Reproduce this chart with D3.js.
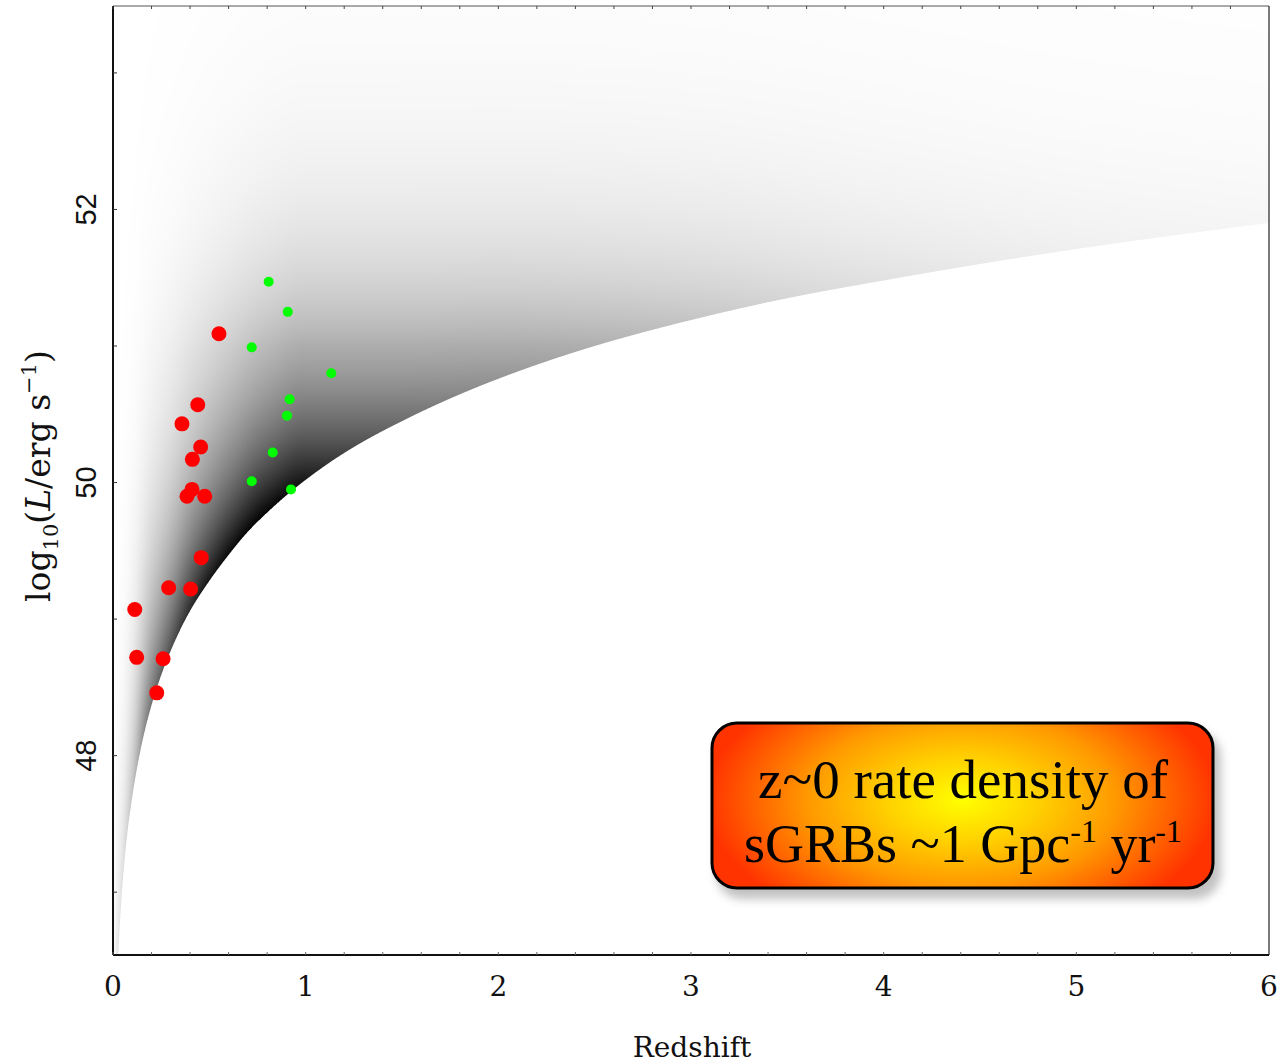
<!DOCTYPE html>
<html><head><meta charset="utf-8">
<script src="https://cdn.jsdelivr.net/npm/d3@7"></script>
<style>body{margin:0;background:#fff}</style>
</head><body>
<svg id="chart" width="1282" height="1063"></svg>
<script>
// ---- data ----
const xTickValues = [0, 1, 2, 3, 4, 5, 6];
const yTickValues = [48, 50, 52];
// observed short GRBs with redshift (red)
const redZ = [0.550, 0.440, 0.358, 0.455, 0.412, 0.410, 0.384, 0.476, 0.458, 0.289, 0.403, 0.113, 0.123, 0.260, 0.227];
const redL = [51.09, 50.57, 50.43, 50.26, 50.17, 49.95, 49.90, 49.90, 49.45, 49.23, 49.22, 49.07, 48.72, 48.71, 48.46];
// second set (green)
const greenZ = [0.808, 0.907, 0.720, 1.133, 0.917, 0.903, 0.829, 0.720, 0.924];
const greenL = [51.47, 51.25, 50.99, 50.80, 50.61, 50.49, 50.22, 50.01, 49.95];
// detection threshold curve (lower edge of the shaded density)
const limitZ = [0.005, 0.01, 0.015, 0.026, 0.05, 0.075, 0.1, 0.15, 0.2, 0.3, 0.4, 0.5, 0.6, 0.7, 0.8, 1.0, 1.25, 1.5, 2.0, 2.5, 3.0, 3.5, 4.0, 5.0, 6.0];
const limitL = [45.04, 45.65, 46.01, 46.49, 47.07, 47.44, 47.70, 48.09, 48.37, 48.77, 49.06, 49.28, 49.47, 49.64, 49.78, 50.02, 50.26, 50.45, 50.76, 51.00, 51.19, 51.35, 51.48, 51.71, 51.90];
// relative source density versus redshift (shade weight)
const rateZ = [0.0, 0.05, 0.1, 0.2, 0.3, 0.4, 0.5, 0.6, 0.8, 1.0, 1.5, 2.0, 2.5, 3.0, 4.0, 5.0, 6.0];
const rateW = [0.0, 0.006, 0.022, 0.10, 0.19, 0.31, 0.43, 0.55, 0.78, 0.92, 0.92, 0.93, 0.90, 0.84, 0.62, 0.44, 0.34];
const lumDecayLow = 0.35;   // shade ratio per dex of L below 10^51
const lumDecayHigh = 0.27;  // shade ratio per dex of L above 10^51
const boxLine1 = "z~0 rate density of";

// ---- layout ----
const svg = d3.select("#chart");
const pLeft = 113, pRight = 1269, pTop = 6, pBottom = 955;
const x = d3.scaleLinear().domain([0, 6]).range([pLeft, pRight]);
const y = d3.scaleLinear().domain([46.54, 53.49]).range([pBottom, pTop]);

// monotone cubic (Fritsch–Carlson) through the read points
function monotone(xs, ys) {
  const n = xs.length, h = [], d = [], m = new Array(n);
  for (let i = 0; i < n - 1; i++) { h[i] = xs[i + 1] - xs[i]; d[i] = (ys[i + 1] - ys[i]) / h[i]; }
  m[0] = d[0]; m[n - 1] = d[n - 2];
  for (let i = 1; i < n - 1; i++) {
    if (d[i - 1] * d[i] <= 0) m[i] = 0;
    else {
      const w1 = 2 * h[i] + h[i - 1], w2 = h[i] + 2 * h[i - 1];
      m[i] = (w1 + w2) / (w1 / d[i - 1] + w2 / d[i]);
    }
  }
  return v => {
    if (v <= xs[0]) return ys[0];
    if (v >= xs[n - 1]) return ys[n - 1];
    const i = Math.max(0, d3.bisectRight(xs, v) - 1);
    const t = (v - xs[i]) / h[i], t2 = t * t, t3 = t2 * t;
    return (2 * t3 - 3 * t2 + 1) * ys[i] + (t3 - 2 * t2 + t) * h[i] * m[i]
      + (-2 * t3 + 3 * t2) * ys[i + 1] + (t3 - t2) * h[i] * m[i + 1];
  };
}
// threshold curve is smooth in log(z)
const limitLog = monotone(limitZ.map(Math.log10), limitL);
const limitAt = z => z <= limitZ[0] ? 40 : limitLog(Math.log10(z));
const rateAt = monotone(rateZ, rateW);

// ---- density image ----
const W = pRight - pLeft, H = pBottom - pTop;
const cv = document.createElement("canvas");
cv.width = W; cv.height = H;
const ctx = cv.getContext("2d");
const img = ctx.createImageData(W, H);
const SS = 3;
for (let px = 0; px < W; px++) {
  const lm = [], ws = [];
  for (let s = 0; s < SS; s++) {
    const z = x.invert(pLeft + px + (s + 0.5) / SS);
    lm.push(limitAt(z)); ws.push(Math.max(0, rateAt(z)));
  }
  for (let py = 0; py < H; py++) {
    let acc = 0;
    for (let s = 0; s < SS; s++) {
      for (let r = 0; r < SS; r++) {
        const L = y.invert(pTop + py + (r + 0.5) / SS);
        if (L < lm[s]) continue;
        const g = L <= 51 ? Math.pow(lumDecayLow, L - 50)
                          : lumDecayLow * Math.pow(lumDecayHigh, L - 51);
        acc += Math.min(1, ws[s] * g);
      }
    }
    const dk = acc / (SS * SS);
    const gv = Math.round(255 * (1 - dk));
    const k = (py * W + px) * 4;
    img.data[k] = gv; img.data[k + 1] = gv; img.data[k + 2] = gv; img.data[k + 3] = 255;
  }
}
ctx.putImageData(img, 0, 0);
svg.append("image").attr("x", pLeft).attr("y", pTop).attr("width", W).attr("height", H)
  .attr("preserveAspectRatio", "none").attr("href", cv.toDataURL());

// ---- frame & ticks ----
svg.append("line").attr("x1", pLeft).attr("x2", pRight).attr("y1", pTop).attr("y2", pTop).attr("stroke", "#555").attr("stroke-width", 1);
svg.append("line").attr("x1", pRight).attr("x2", pRight).attr("y1", pTop).attr("y2", pBottom).attr("stroke", "#222").attr("stroke-width", 1.2);
svg.append("line").attr("x1", pLeft).attr("x2", pLeft).attr("y1", pTop).attr("y2", pBottom).attr("stroke", "#111").attr("stroke-width", 2);
svg.append("line").attr("x1", pLeft).attr("x2", pRight).attr("y1", pBottom).attr("y2", pBottom).attr("stroke", "#111").attr("stroke-width", 2);

const minorZ = d3.range(0, 30).map(i => i * 0.2);
svg.append("g").selectAll("line").data(minorZ).join("line")
  .attr("x1", d => x(d)).attr("x2", d => x(d)).attr("y1", pTop).attr("y2", pTop + 3)
  .attr("stroke", "#444").attr("stroke-width", 1);
svg.append("g").selectAll("line").data(minorZ).join("line")
  .attr("x1", d => x(d)).attr("x2", d => x(d)).attr("y1", pBottom).attr("y2", pBottom - 3)
  .attr("stroke", "#666").attr("stroke-width", 1);
const yTickAll = [47, 48, 49, 50, 51, 52, 53];
svg.append("g").selectAll("line").data(yTickAll).join("line")
  .attr("x1", pLeft).attr("x2", pLeft + 4).attr("y1", d => y(d)).attr("y2", d => y(d))
  .attr("stroke", "#333").attr("stroke-width", 1);

// tick labels
svg.append("g").selectAll("text").data(xTickValues).join("text")
  .attr("x", d => x(d)).attr("y", 996).attr("text-anchor", "middle")
  .attr("font-family", "DejaVu Serif").attr("font-size", 28).attr("fill", "#111")
  .text(d => d);
svg.append("g").selectAll("text").data(yTickValues).join("text")
  .attr("transform", d => `translate(96,${y(d)}) rotate(-90)`)
  .attr("text-anchor", "middle")
  .attr("font-family", "Liberation Sans").attr("font-size", 29).attr("fill", "#111")
  .text(d => d);

// axis titles
svg.append("text").attr("x", 692).attr("y", 1057).attr("text-anchor", "middle")
  .attr("font-family", "DejaVu Serif").attr("font-size", 28).attr("fill", "#111").text("Redshift");
const yl = svg.append("text").attr("transform", "translate(50,476) rotate(-90)")
  .attr("text-anchor", "middle").attr("font-family", "DejaVu Serif").attr("font-size", 33).attr("fill", "#111");
yl.append("tspan").text("log");
yl.append("tspan").attr("font-size", 21).attr("dy", 8).text("10");
yl.append("tspan").attr("dy", -8).text("(");
yl.append("tspan").attr("font-style", "italic").text("L");
yl.append("tspan").text("/erg s");
yl.append("tspan").attr("font-size", 21).attr("dy", -14).text("−1");
yl.append("tspan").attr("dy", 14).text(")");

// ---- points ----
svg.append("g").selectAll("circle").data(redZ.map((z, i) => [z, redL[i]])).join("circle")
  .attr("cx", d => x(d[0])).attr("cy", d => y(d[1])).attr("r", 7.5).attr("fill", "#ff0000");
svg.append("g").selectAll("circle").data(greenZ.map((z, i) => [z, greenL[i]])).join("circle")
  .attr("cx", d => x(d[0])).attr("cy", d => y(d[1])).attr("r", 5).attr("fill", "#00ff00");

// ---- annotation box ----
const defs = svg.append("defs");
const grad = defs.append("radialGradient").attr("id", "boxg").attr("gradientUnits", "userSpaceOnUse")
  .attr("cx", 962).attr("cy", 800).attr("r", 255)
  .attr("gradientTransform", "translate(962,800) scale(1,0.55) translate(-962,-800)");
[[0, "#ffff00"], [0.3, "#ffd000"], [0.6, "#ff9a00"], [1, "#ff3300"]].forEach(s =>
  grad.append("stop").attr("offset", s[0]).attr("stop-color", s[1]));
const f = defs.append("filter").attr("id", "shadow").attr("x", "-10%").attr("y", "-20%").attr("width", "130%").attr("height", "150%");
f.append("feGaussianBlur").attr("stdDeviation", 5);
svg.append("rect").attr("x", 716).attr("y", 731).attr("width", 505).attr("height", 168).attr("rx", 26)
  .attr("fill", "#999").attr("opacity", 0.6).attr("filter", "url(#shadow)");
svg.append("rect").attr("x", 712).attr("y", 723).attr("width", 501).attr("height", 165).attr("rx", 25)
  .attr("fill", "url(#boxg)").attr("stroke", "#000").attr("stroke-width", 3);
svg.append("text").attr("x", 963).attr("y", 798).attr("text-anchor", "middle")
  .attr("font-family", "Liberation Serif").attr("font-size", 55).attr("fill", "#000").text(boxLine1);
const t2 = svg.append("text").attr("x", 963).attr("y", 862).attr("text-anchor", "middle")
  .attr("font-family", "Liberation Serif").attr("font-size", 54).attr("fill", "#000");
t2.append("tspan").text("sGRBs ~1 Gpc");
t2.append("tspan").attr("font-size", 32).attr("dy", -20).text("-1");
t2.append("tspan").attr("dy", 20).text(" yr");
t2.append("tspan").attr("font-size", 32).attr("dy", -20).text("-1");
</script>
</body></html>
